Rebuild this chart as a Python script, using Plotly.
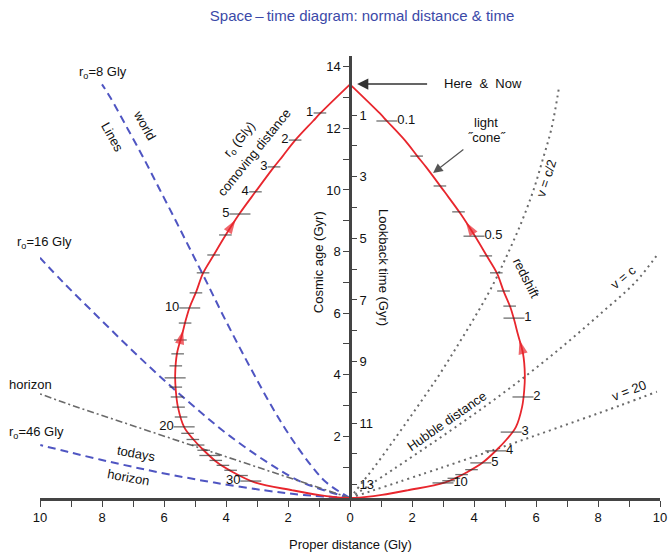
import numpy as np
import plotly.graph_objects as go

FONT = "Liberation Sans, Arial, sans-serif"
AGE_NOW = 13.43

# ---- past light cone (proper distance Gly vs cosmic age Gyr)
cone_age = [0, 0.005, 0.03, 0.1, 0.25, 0.5, 0.88, 1.15, 1.55, 1.9, 2.3, 2.95, 3.5, 4.0,
            4.7, 5.3, 5.84, 6.2, 6.7, 7.3, 7.88, 8.52, 9.25, 9.94, 10.75, 11.1, 11.6,
            12.24, 12.5, 13.43]
cone_dist = [0, 0.14, 0.46, 1.03, 1.85, 3.05, 3.85, 4.28, 4.72, 5.05, 5.35, 5.55, 5.62, 5.64,
             5.58, 5.42, 5.28, 5.17, 4.96, 4.74, 4.4, 4.02, 3.55, 3.05, 2.45, 2.17, 1.78,
             1.19, 0.95, 0]

# ---- comoving distance ticks on the left branch
comoving_r0 = list(range(1, 31))
comoving_age = [12.5, 11.62, 10.75, 9.94, 9.22, 8.54, 7.89, 7.31, 6.66, 6.17, 5.68, 5.13,
                4.68, 4.29, 3.9, 3.6, 3.28, 2.95, 2.63, 2.31, 2.1, 1.9, 1.72, 1.55, 1.38,
                1.22, 1.06, 0.9, 0.73, 0.55]
comoving_dist = [0.97, 1.77, 2.45, 3.05, 3.55, 4.02, 4.4, 4.74, 4.97, 5.17, 5.32, 5.47,
                 5.56, 5.62, 5.64, 5.62, 5.58, 5.53, 5.45, 5.35, 5.24, 5.07, 4.9, 4.72,
                 4.52, 4.33, 4.1, 3.85, 3.5, 3.2]
comoving_labels = {1: "1", 2: "2", 3: "3", 4: "4", 5: "5", 10: "10", 20: "20", 30: "30"}
comoving_long = [5, 10, 15, 20, 25, 30]

# ---- redshift ticks on the right branch
redshift_z = [0.1, 0.2, 0.3, 0.4, 0.5, 0.6, 0.7, 0.8, 0.9, 1, 2, 3, 4, 5, 6, 7, 8, 9, 10]
redshift_age = [12.24, 11.1, 10.13, 9.29, 8.5, 7.86, 7.31, 6.72, 6.23, 5.84, 3.28, 2.14,
                1.53, 1.14, 0.92, 0.76, 0.64, 0.56, 0.49]
redshift_dist = [1.19, 2.15, 2.9, 3.5, 4.0, 4.38, 4.72, 4.95, 5.15, 5.29, 5.58, 5.2, 4.7,
                 4.22, 3.92, 3.6, 3.35, 3.18, 3.0]
redshift_labels = {0.1: "0.1", 0.5: "0.5", 1: "1", 2: "2", 3: "3", 4: "4", 5: "5", 10: "10"}

# ---- arrowheads on the light cone (cosmic age of each head)
arrow_age_left = [9.03, 5.45]
arrow_age_right = [8.96, 5.13]

# ---- world lines (left), proper distance vs cosmic age
wl8_age = [0, 0.5, 1, 2, 3, 4, 5, 6, 7, 8, 9, 10, 11, 12, 13, 13.43]
wl8_dist = [0, 0.76, 1.21, 1.93, 2.54, 3.09, 3.62, 4.13, 4.62, 5.12, 5.62, 6.13, 6.64, 7.18, 7.73, 8.0]
wl16_age = [0, 0.5, 1, 2, 3, 4, 5, 6, 7, 7.8]
wl16_dist = [0, 1.52, 2.42, 3.86, 5.07, 6.19, 7.24, 8.25, 9.25, 10.0]
wl46_age = [0, 0.1, 0.25, 0.5, 0.75, 1.0, 1.25, 1.5, 1.72]
wl46_dist = [0, 1.5, 2.76, 4.38, 5.75, 6.96, 8.07, 9.11, 9.99]
horizon_age = [0, 1.0, 2.0, 3.0, 3.38]
horizon_dist = [0, 3.0, 6.0, 8.95, 10.0]

# ---- constant recession velocity loci (right)
vhalf_age = [0, 1, 2, 3, 4, 5, 6, 7, 8, 9, 10, 11, 12, 13.38]
vhalf_dist = [0, 0.78, 1.5, 2.2, 2.88, 3.5, 4.1, 4.65, 5.12, 5.55, 5.92, 6.22, 6.5, 6.75]
vc_age = [0, 1, 2, 3, 4, 5, 6, 7, 7.95]
vc_dist = [0, 1.5, 2.97, 4.39, 5.72, 6.95, 8.1, 9.2, 9.95]
v2c_age = [0, 1, 2, 3, 3.45]
v2c_dist = [0, 3.0, 5.9, 8.7, 9.9]

# ---- axes
x_ticks = list(range(-10, 11))
age_ticks = list(range(0, 15))
lookback_ticks = list(range(1, 14))

RED = "#e8262d"
BLUE = "#4f55c2"
GRAY = "#6a6a6a"
TICKC = "#333333"

fig = go.Figure()

neg = lambda arr: [-v for v in arr]

# world lines
for d, a in [(wl8_dist, wl8_age), (wl16_dist, wl16_age), (wl46_dist, wl46_age)]:
    fig.add_trace(go.Scatter(x=neg(d), y=a, mode="lines", line_shape="spline",
                             line=dict(color=BLUE, width=2, dash="8px,5px")))
fig.add_trace(go.Scatter(x=neg(horizon_dist), y=horizon_age, mode="lines",
                         line=dict(color=GRAY, width=1.6, dash="7px,3px,2px,3px")))
# velocity loci
for d, a in [(vhalf_dist, vhalf_age), (vc_dist, vc_age), (v2c_dist, v2c_age)]:
    fig.add_trace(go.Scatter(x=d, y=a, mode="lines", line_shape="spline",
                             line=dict(color=GRAY, width=2, dash="2px,4px")))

# light cone both sides
for sgn in (-1, 1):
    fig.add_trace(go.Scatter(x=[sgn * v for v in cone_dist], y=cone_age, mode="lines",
                             line_shape="spline", line=dict(color=RED, width=1.8)))

# tick marks on cone - left (comoving distance)
fig.add_trace(go.Scatter(
    x=neg(comoving_dist), y=comoving_age, mode="markers+text",
    marker=dict(symbol="line-ew", size=[15 if r in comoving_long else 9 for r in comoving_r0],
                line=dict(color=TICKC, width=1.3)),
    text=[comoving_labels.get(r, " ") for r in comoving_r0], textposition="middle left",
    textfont=dict(family=FONT, size=13, color="#111")))
# tick marks on cone - right (redshift)
fig.add_trace(go.Scatter(
    x=redshift_dist, y=redshift_age, mode="markers+text",
    marker=dict(symbol="line-ew", size=[15 if z in redshift_labels else 9 for z in redshift_z],
                line=dict(color=TICKC, width=1.3)),
    text=[redshift_labels.get(z, " ") for z in redshift_z], textposition="middle right",
    textfont=dict(family=FONT, size=13, color="#111")))

# arrowheads along the cone
for sgn, ages in ((-1, arrow_age_left), (1, arrow_age_right)):
    for a in ages:
        a0 = a - 0.3
        xs = [sgn * float(np.interp(a0, cone_age, cone_dist)), sgn * float(np.interp(a, cone_age, cone_dist))]
        fig.add_trace(go.Scatter(x=xs, y=[a0, a], mode="markers",
                                 marker=dict(symbol="arrow", size=[0, 15], color=RED,
                                             angleref="previous", line=dict(width=0))))

ann = []
def T(x, y, text, angle=0, size=13, **kw):
    ann.append(dict(x=x, y=y, text=text, textangle=angle, showarrow=False,
                    xanchor="center", yanchor="middle",
                    font=dict(family=FONT, size=size, color="#111"), **kw))

T(-7.97, 13.83, "r<sub>o</sub>=8 Gly")
T(-9.84, 8.28, "r<sub>o</sub>=16 Gly")
T(-0.005, 2.14, "r<sub>o</sub>=46 Gly", xref="paper")
T(-0.016, 3.7, "horizon", xref="paper")
T(-6.9, 1.46, "todays", angle=10)
T(-7.13, 0.65, "horizon", angle=10)
T(-6.61, 12.11, "world", angle=61)
T(-7.65, 11.72, "Lines", angle=61)
T(-3.55, 11.65, "r<sub>o</sub> (Gly)", angle=-50)
T(-3.1, 11.23, "comoving distance", angle=-51)
T(-1.03, 7.66, "Cosmic age (Gyr)", angle=-90)
T(1.06, 7.47, "Lookback time (Gyr)", angle=90)
T(4.29, 13.47, "Here  &  Now")
T(4.39, 12.2, "light")
T(4.42, 11.69, "\u02DDcone\u02DD")
T(5.7, 7.14, "redshift", angle=63)
T(6.35, 10.39, "v = c/2", angle=-72)
T(8.8, 7.17, "v = c", angle=-40)
T(9.0, 3.5, "v = 20", angle=-21)
T(3.1, 2.5, "Hubble distance", angle=-35)

# pointer arrows
ann.append(dict(x=0.23, y=13.44, ax=2.6, ay=13.44, axref="x", ayref="y", text=" ",
                showarrow=True, arrowhead=2, arrowsize=1.6, arrowwidth=1.4, arrowcolor="#333"))
ann.append(dict(x=2.68, y=10.55, ax=3.77, ay=11.4, axref="x", ayref="y", text=" ",
                showarrow=True, arrowhead=2, arrowsize=1.6, arrowwidth=1.2, arrowcolor="#555"))
# x axis title
ann.append(dict(x=0.5, y=-0.106, xref="paper", yref="paper", yanchor="middle",
                text="Proper distance (Gly)",
                showarrow=False, font=dict(family=FONT, size=13, color="#111")))

fig.update_layout(
    width=668, height=552,
    margin=dict(l=40, r=8, t=56, b=54, autoexpand=False),
    paper_bgcolor="white", plot_bgcolor="white",
    showlegend=False,
    font=dict(family=FONT, size=13, color="#111"),
    title=dict(text="Space\u2009\u2013\u2009time diagram: normal distance & time",
               x=0.542, xref="container", xanchor="center", y=1 - 16 / 552, yref="container",
               yanchor="middle", font=dict(family=FONT, size=15, color="#3b49a8")),
    annotations=ann,
    xaxis=dict(range=[-10, 10], showgrid=False, zeroline=False, showline=True,
               linecolor="#444", linewidth=2.5, ticks="outside", ticklen=6, tickwidth=1.4,
               tickcolor="#444", tickvals=x_ticks,
               ticktext=[str(abs(v)) if v % 2 == 0 else "" for v in x_ticks],
               tickfont=dict(family=FONT, size=13, color="#111")),
    yaxis=dict(range=[0, 14.35], showgrid=False, zeroline=False, showline=True,
               anchor="free", position=0.5, linecolor="#444", linewidth=2.5,
               ticks="outside", ticklen=6, tickwidth=1.4, tickcolor="#444",
               tickvals=age_ticks,
               ticktext=[str(v) if (v % 2 == 0 and v > 0) else "" for v in age_ticks],
               tickfont=dict(family=FONT, size=13, color="#111")),
    yaxis2=dict(range=[0, 14.35], overlaying="y", side="right", anchor="free",
                position=0.5, showgrid=False, zeroline=False, showline=False,
                ticks="outside", ticklen=6, tickwidth=1.4, tickcolor="#444",
                tickvals=[AGE_NOW - L for L in lookback_ticks],
                ticktext=[str(L) if L % 2 == 1 else "" for L in lookback_ticks],
                tickfont=dict(family=FONT, size=13, color="#111")),
)
# dummy trace to activate yaxis2
fig.add_trace(go.Scatter(x=[0], y=[0], yaxis="y2", mode="markers", marker=dict(size=0, opacity=0),
                         hoverinfo="skip"))

fig.write_html("out.html", config={"displayModeBar": False},
               post_script="document.body.style.margin='0';document.body.style.padding='0';"
                           "document.documentElement.style.overflow='hidden';")
